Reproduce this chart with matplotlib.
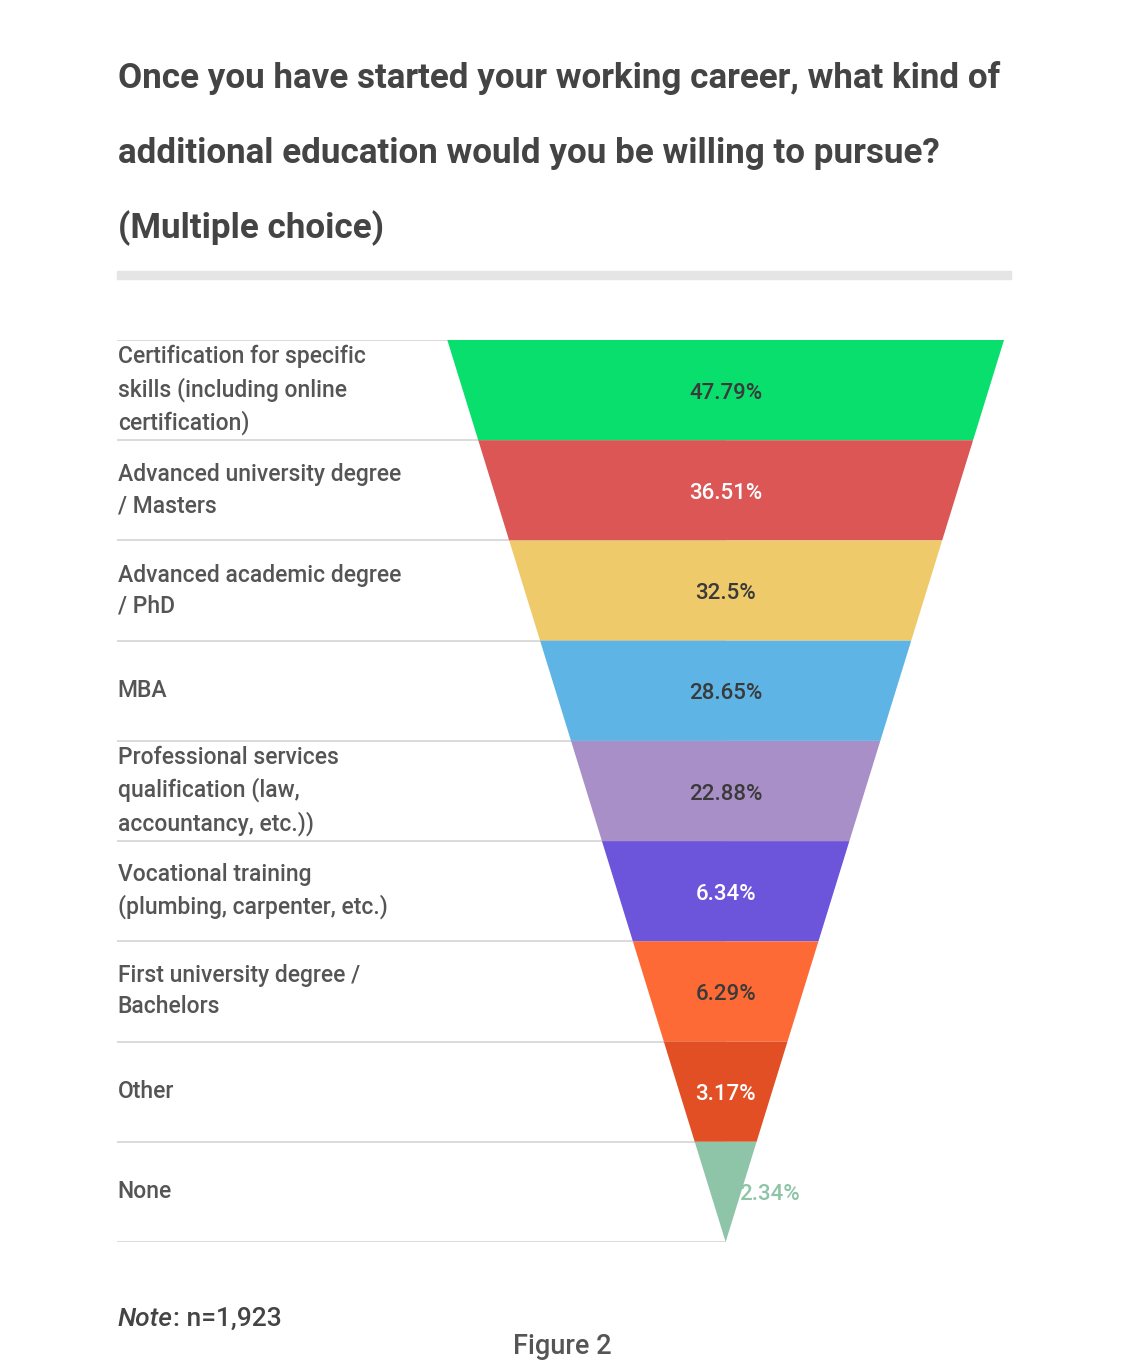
import numpy as np
import matplotlib
matplotlib.use('Agg')
import matplotlib.pyplot as plt
from matplotlib.patches import Polygon

# chart data
categories = [
	'Certification for specific\nskills (including online\ncertification)',
	'Advanced university degree\n/ Masters',
	'Advanced academic degree\n/ PhD',
	'MBA',
	'Professional services\nqualification (law,\naccountancy, etc.))',
	'Vocational training\n(plumbing, carpenter, etc.)',
	'First university degree /\nBachelors',
	'Other',
	'None',
]
values = [47.79, 36.51, 32.5, 28.65, 22.88, 6.34, 6.29, 3.17, 2.34]
value_labels = ['47.79%', '36.51%', '32.5%', '28.65%', '22.88%', '6.34%', '6.29%', '3.17%', '2.34%']
colors = ['#08df6c', '#dc5656', '#eeca6a', '#5eb5e5', '#a98fc7', '#6d55db', '#fe6a36', '#e24f24', '#8ec4a7']
label_colors = ['#3a3a3a', '#ffffff', '#3a3a3a', '#3a3a3a', '#3a3a3a', '#ffffff', '#3a3a3a', '#ffffff', '#8ec4a7']

title_lines = [
	'Once you have started your working career, what kind of',
	'additional education would you be willing to pursue?',
	'(Multiple choice)',
]

plt.rcParams['font.family'] = ['Roboto', 'DejaVu Sans']

W, H = 1125, 1372
fig = plt.figure(figsize=(W / 100, H / 100), dpi=100)
fig.patch.set_facecolor('white')

# title
for k, line in enumerate(title_lines):
	fig.text(118 / W, 1 - (78 + 75 * k) / H, line, fontsize=25.2, fontweight='bold',
			 color='#444444', ha='left', va='center')
fig.patches.append(plt.Rectangle((117 / W, 1 - 279 / H), (1011 - 117) / W, 8 / H,
								 transform=fig.transFigure, color='#e5e5e5', zorder=0))

# funnel axes (x in units of the funnel half-width, y in rows)
ax = fig.add_axes([117 / W, 1 - 1242 / H, (1004 - 117) / W, (1242 - 340) / H])
n = len(categories)
x_left = -609 / 278.5
ax.set_xlim(x_left, 1.0)
ax.set_ylim(n, 0)
ax.axis('off')

for i in range(n):
	top_hw = (n - i) / n
	bot_hw = (n - i - 1) / n
	poly = Polygon([(-top_hw, i), (top_hw, i), (bot_hw, i + 1), (-bot_hw, i + 1)],
				   closed=True, facecolor=colors[i], edgecolor='none', zorder=2)
	ax.add_patch(poly)
	# separator lines
	ax.plot([x_left, 0], [i, i], color='#d4d4d4', lw=1.2, zorder=1, solid_capstyle='butt')
	ax.text(x_left + 0.003, i + 0.5, categories[i], fontsize=16.5, fontweight='medium',
			color='#555555', ha='left', va='center', linespacing=1.45)
	if i == n - 1:
		ax.text(0.05, i + 0.53, value_labels[i], fontsize=16, fontweight='medium',
				color=label_colors[i], ha='left', va='center', zorder=3)
	else:
		ax.text(0, i + 0.53, value_labels[i], fontsize=16, fontweight='medium',
				color=label_colors[i], ha='center', va='center', zorder=3)
ax.plot([x_left, 0], [n, n], color='#d4d4d4', lw=1.2, zorder=1, solid_capstyle='butt')

# footnotes
t = fig.text(118 / W, 1 - 1319 / H, 'Note', fontsize=19, style='italic', fontweight='medium',
			 color='#444444', ha='left', va='center')
fig.canvas.draw()
bb = t.get_window_extent()
fig.text(bb.x1 / W, 1 - 1319 / H, ': n=1,923', fontsize=19, fontweight='medium',
		 color='#444444', ha='left', va='center')
fig.text(562 / W, 1 - 1346 / H, 'Figure 2', fontsize=19.5, fontweight='medium',
		 color='#555555', ha='center', va='center')

fig.savefig('out.png', dpi=100, facecolor='white')
